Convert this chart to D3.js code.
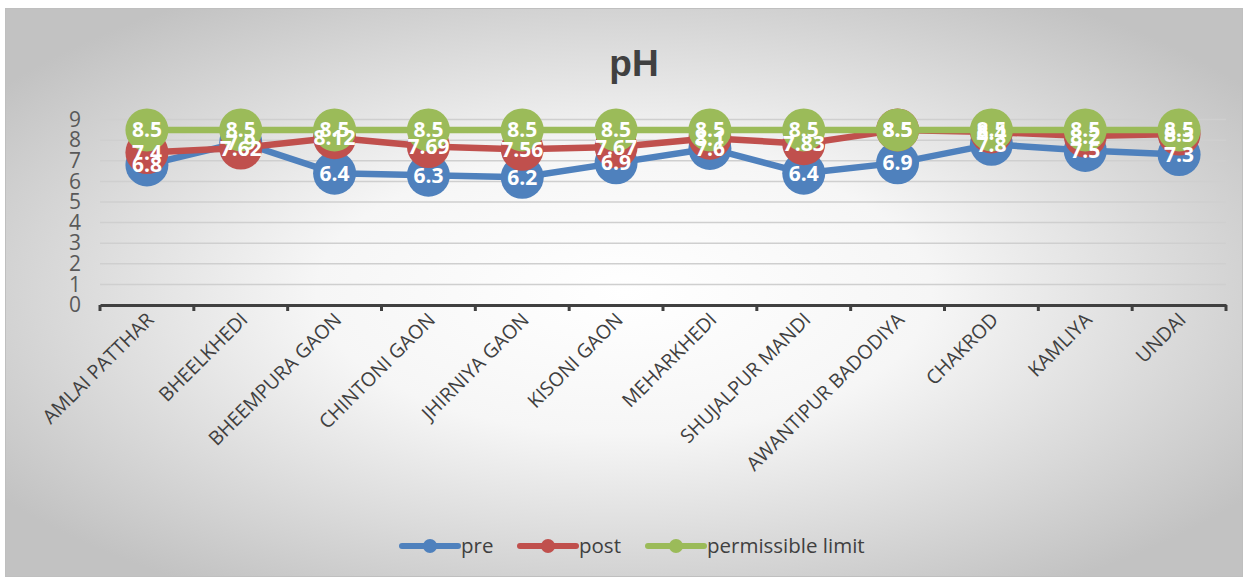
<!DOCTYPE html>
<html><head><meta charset="utf-8">
<script src="https://cdn.jsdelivr.net/npm/d3@7"></script>
<style>body{margin:0;background:#fff}svg{display:block}</style>
</head><body>
<script>
const categories = ["AMLAI PATTHAR","BHEELKHEDI","BHEEMPURA GAON","CHINTONI GAON","JHIRNIYA GAON","KISONI GAON","MEHARKHEDI","SHUJALPUR MANDI","AWANTIPUR BADODIYA","CHAKROD","KAMLIYA","UNDAI"];
const pre = [6.8,7.9,6.4,6.3,6.2,6.9,7.6,6.4,6.9,7.8,7.5,7.3];
const post = [7.4,7.62,8.12,7.69,7.56,7.67,8.1,7.83,8.5,8.4,8.2,8.3];
const limit = [8.5,8.5,8.5,8.5,8.5,8.5,8.5,8.5,8.5,8.5,8.5,8.5];
const yTicks = [0,1,2,3,4,5,6,7,8,9];
const seriesNames = ["pre","post","permissible limit"];
const colors = ["#4F81BD","#C0504D","#9BBB59"];

const W=1246,H=580;
const svg=d3.select("body").append("svg").attr("width",W).attr("height",H);
const defs=svg.append("defs");
const g=defs.append("radialGradient").attr("id","bg").attr("cx","50%").attr("cy","50%").attr("r","62%");
g.append("stop").attr("offset","0%").attr("stop-color","#ffffff");
g.append("stop").attr("offset","40%").attr("stop-color","#f6f6f6");
g.append("stop").attr("offset","100%").attr("stop-color","#c2c2c2");
svg.append("rect").attr("x",5.5).attr("y",8.5).attr("width",1237).attr("height",568)
  .attr("fill","url(#bg)").attr("stroke","#bfbfbf").attr("stroke-width",1);

const x=d3.scaleBand().domain(categories).range([100,1226]);
const y=d3.scaleLinear().domain([0,9]).range([305,119.6]);
const font="'Open Sans', 'Liberation Sans', sans-serif";

// gridlines
svg.append("g").selectAll("line").data(yTicks.filter(d=>d>0)).join("line")
  .attr("x1",100).attr("x2",1226).attr("y1",d=>y(d)).attr("y2",d=>y(d))
  .attr("stroke","#cfcfcf").attr("stroke-width",1.5);

// y axis labels
const ya=svg.append("g").attr("transform","translate(100,0)")
  .call(d3.axisLeft(y).tickValues(yTicks).tickSize(0).tickPadding(19).tickFormat(d3.format("d")));
ya.select(".domain").remove();
ya.selectAll("text").attr("font-family",font).attr("font-size",21).attr("fill","#595959");

// x axis
const xa=svg.append("g").attr("transform","translate(0,305)")
  .call(d3.axisBottom(x).tickSize(0).tickFormat(""));
xa.select(".domain").attr("stroke","#404040").attr("stroke-width",3);
const bounds=d3.range(categories.length+1).map(i=>100+i*x.step());
svg.append("g").selectAll("line").data(bounds).join("line")
  .attr("x1",d=>d).attr("x2",d=>d).attr("y1",305).attr("y2",311)
  .attr("stroke","#404040").attr("stroke-width",3);
svg.append("g").selectAll("text").data(categories).join("text")
  .attr("transform",d=>`translate(${x(d)+x.bandwidth()/2+8},${321}) rotate(-45)`)
  .attr("text-anchor","end").attr("font-family",font).attr("font-size",19.5).attr("fill","#404040")
  .text(d=>d);

// title
svg.append("text").attr("x",634).attr("y",76).attr("text-anchor","middle")
  .attr("font-family","'Liberation Sans', Arial, sans-serif").attr("font-weight","bold")
  .attr("font-size",37).attr("fill","#404040").text("pH");

const data=[pre,post,limit];
const cx=i=>x(categories[i])+x.bandwidth()/2;
const line=d3.line().x((d,i)=>cx(i)).y(d=>y(d));
data.forEach((s,k)=>{
  svg.append("path").datum(s).attr("d",line).attr("fill","none")
    .attr("stroke",colors[k]).attr("stroke-width",6.5).attr("stroke-linejoin","round");
  svg.append("g").selectAll("circle").data(s).join("circle")
    .attr("cx",(d,i)=>cx(i)).attr("cy",d=>y(d)).attr("r",21.5).attr("fill",colors[k]);
});
data.forEach((s,k)=>{
  svg.append("g").selectAll("text").data(s).join("text")
    .attr("x",(d,i)=>cx(i)).attr("y",d=>y(d)).attr("dy","0.36em").attr("text-anchor","middle")
    .attr("font-family",font).attr("font-weight","bold").attr("font-size",21).attr("fill","#fff")
    .text(d=>d);
});

// legend
const leg=[{x:402,n:0},{x:520,n:1},{x:648,n:2}];
const lg=svg.append("g");
leg.forEach(l=>{
  lg.append("line").attr("x1",l.x).attr("x2",l.x+56).attr("y1",546).attr("y2",546)
    .attr("stroke",colors[l.n]).attr("stroke-width",6).attr("stroke-linecap","round");
  lg.append("circle").attr("cx",l.x+28).attr("cy",546).attr("r",7).attr("fill",colors[l.n]);
  lg.append("text").attr("x",l.x+59).attr("y",546).attr("dy","0.36em")
    .attr("font-family",font).attr("font-size",20.5).attr("fill","#404040").text(seriesNames[l.n]);
});
</script>
</body></html>
